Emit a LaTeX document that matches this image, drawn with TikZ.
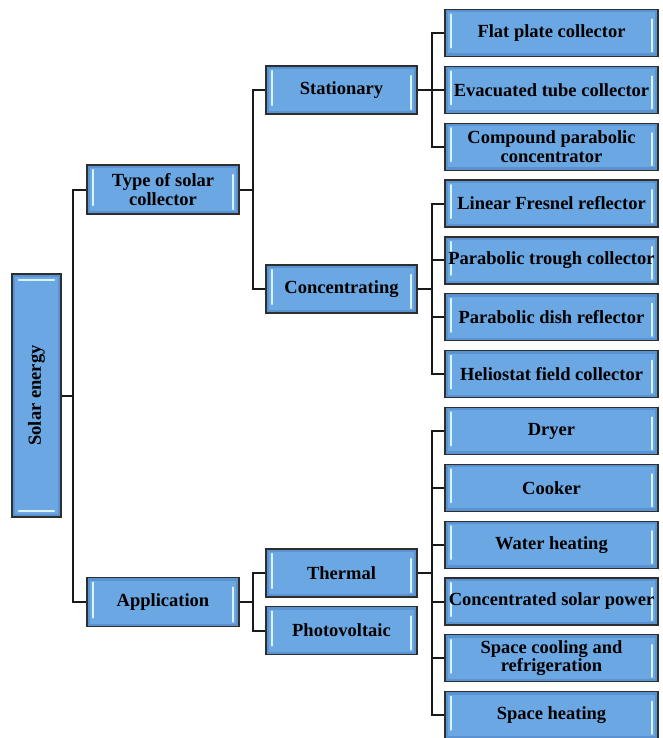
\documentclass[tikz,border=0pt]{standalone}
\usepackage{fontspec}
\setmainfont{Liberation Serif}
\usepackage{graphicx}
\definecolor{bout}{HTML}{5A93CF}
\definecolor{bin}{HTML}{6BA7E3}
\definecolor{bline}{HTML}{2E2E2E}
\definecolor{hl}{HTML}{DAF4FF}
\tikzset{
  box/.style={draw=bline, line width=1.2pt, fill=bout, inner sep=0pt, align=center,
    font=\fontsize{18.5}{18.5}\selectfont\bfseries, text=black,
    path picture={
      \fill[bin] ([shift={(3pt,-3pt)}]path picture bounding box.north west) rectangle ([shift={(-3pt,3pt)}]path picture bounding box.south east);
      \draw[hl, line width=2.2pt, line cap=round] ([shift={(6pt,-5pt)}]path picture bounding box.north west) -- ([shift={(6pt,9pt)}]path picture bounding box.south west);
      \draw[hl, line width=2.2pt, line cap=round] ([shift={(-6pt,-10pt)}]path picture bounding box.north east) -- ([shift={(-6pt,5pt)}]path picture bounding box.south east);
    }},
  vbox/.style={draw=bline, line width=1.2pt, fill=bout, inner sep=0pt, align=center,
    font=\fontsize{18.5}{18.5}\selectfont\bfseries, text=black,
    path picture={
      \fill[bin] ([shift={(3pt,-3pt)}]path picture bounding box.north west) rectangle ([shift={(-3pt,3pt)}]path picture bounding box.south east);
      \draw[hl, line width=2.2pt, line cap=round] ([shift={(7pt,-6pt)}]path picture bounding box.north west) -- ([shift={(-7pt,-6pt)}]path picture bounding box.north east);
      \draw[hl, line width=2.2pt, line cap=round] ([shift={(7pt,6pt)}]path picture bounding box.south west) -- ([shift={(-7pt,6pt)}]path picture bounding box.south east);
    }},
  leafbox/.style={box, minimum width=213pt, minimum height=47pt},
  midbox/.style={box, minimum width=151pt, minimum height=48pt},
  lvlbox/.style={box, minimum width=152pt, minimum height=49pt},
  conn/.style={draw=black!90, line width=2pt}
}
\begin{document}
\begin{tikzpicture}[x=1pt,y=-1pt]
\useasboundingbox (0,0) rectangle (662,738);
% root
\node[vbox, minimum width=49pt, minimum height=243pt] (solar) at (36.5,395.5) {\rotatebox{90}{Solar energy}};
% level 1
\node[lvlbox] (type) at (163,189.5) {Type of solar\\collector};
\node[lvlbox] (app) at (163,602) {Application};
% level 2
\node[midbox] (stat) at (341.5,90) {Stationary};
\node[midbox] (conc) at (341.5,289) {Concentrating};
\node[midbox] (therm) at (341.5,573) {Thermal};
\node[midbox] (pv) at (341.5,630.5) {Photovoltaic};
% leaves
\node[leafbox] (flat) at (551.5,33) {Flat plate collector};
\node[leafbox] (evac) at (551.5,89.85) {Evacuated tube collector};
\node[leafbox] (comp) at (551.5,146.7) {Compound parabolic\\concentrator};
\node[leafbox] (lin) at (551.5,203.55) {Linear Fresnel reflector};
\node[leafbox] (trough) at (551.5,260.4) {Parabolic trough collector};
\node[leafbox] (dish) at (551.5,317.25) {Parabolic dish reflector};
\node[leafbox] (helio) at (551.5,374.1) {Heliostat field collector};
\node[leafbox] (dryer) at (551.5,430.95) {Dryer};
\node[leafbox] (cooker) at (551.5,487.8) {Cooker};
\node[leafbox] (water) at (551.5,544.65) {Water heating};
\node[leafbox] (csp) at (551.5,601.5) {Concentrated solar power};
\node[leafbox] (cool) at (551.5,658.35) {Space cooling and\\refrigeration};
\node[leafbox] (heat) at (551.5,715.2) {Space heating};
% junctions
\coordinate (j1) at (73,395.5);
\coordinate (j2) at (252.5,189.5);
\coordinate (j3) at (432,90);
\coordinate (j4) at (432,289);
\coordinate (j5) at (253,602);
\coordinate (j6) at (432,573);
% connectors
\draw[conn] (solar.east) -- (j1);
\draw[conn] (type.west) -| (j1);
\draw[conn] (app.west) -| (j1);
\draw[conn] (type.east) -- (j2);
\draw[conn] (stat.west) -| (j2);
\draw[conn] (conc.west) -| (j2);
\draw[conn] (stat.east) -- (j3);
\draw[conn] (flat.west) -| (j3);
\draw[conn] (evac.west) -| (j3);
\draw[conn] (comp.west) -| (j3);
\draw[conn] (conc.east) -- (j4);
\draw[conn] (lin.west) -| (j4);
\draw[conn] (trough.west) -| (j4);
\draw[conn] (dish.west) -| (j4);
\draw[conn] (helio.west) -| (j4);
\draw[conn] (app.east) -- (j5);
\draw[conn] (therm.west) -| (j5);
\draw[conn] (pv.west) -| (j5);
\draw[conn] (therm.east) -- (j6);
\draw[conn] (dryer.west) -| (j6);
\draw[conn] (cooker.west) -| (j6);
\draw[conn] (water.west) -| (j6);
\draw[conn] (csp.west) -| (j6);
\draw[conn] (cool.west) -| (j6);
\draw[conn] (heat.west) -| (j6);
\end{tikzpicture}
\end{document}
